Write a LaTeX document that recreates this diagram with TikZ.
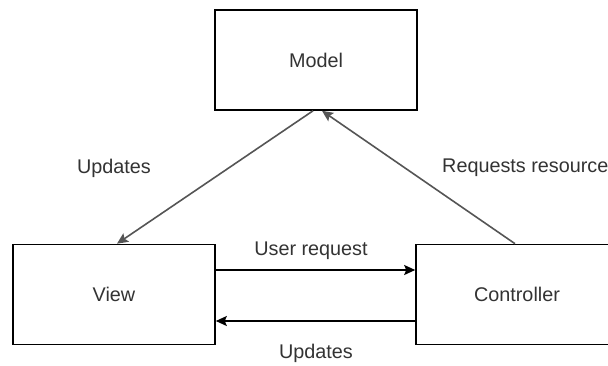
\documentclass[tikz,border=0pt]{standalone}
\usepackage{fontspec}
\setmainfont{Liberation Sans}
\definecolor{txt}{RGB}{51, 51, 51}
\definecolor{diag}{RGB}{85, 85, 85}
\usetikzlibrary{arrows.meta, positioning, calc}
\tikzset{
	tip/.style={-{Stealth[length=11pt,width=10pt,inset=2pt]}},
}
\begin{document}
\begin{tikzpicture}[x=1pt,y=-1pt,
			box/.style={rectangle,draw=black,line width=1.6pt,fill=white,
				minimum width=202pt,minimum height=100pt,inner sep=0pt,text=txt},
			lbl/.style={text=txt,inner sep=0pt},
			every node/.style={font=\fontsize{19.8}{23}\selectfont}]
			\useasboundingbox (0,0) rectangle (608,365);
			\clip (0,0) rectangle (608,365);
			\fill[white] (0,0) rectangle (608,365);
			% boxes
			\node[box] (model) at (316,60) {Model};
			\node[box] (view) at (114,294.5) {View};
			\node[box] (controller) at (517,294.5) {Controller};
			% connectors
			\draw[tip,diag,line width=1.6pt] ([xshift=-3pt]model.south) -- ([xshift=3pt]view.north);
			\draw[tip,diag,line width=1.6pt] ([xshift=-2pt]controller.north) -- ([xshift=6pt]model.south);
			\draw[tip,line width=1.6pt] ([yshift=24.5pt]view.east) -- ([yshift=24.5pt]controller.west);
			\draw[tip,line width=1.6pt] ([yshift=-26.5pt]controller.west) -- ([yshift=-26.5pt]view.east);
			% labels
			\node[lbl] (updates1) at (114,168) {Updates};
			\node[lbl,anchor=west] (requests) at (442,168) {Requests resource};
			\node[lbl] (userreq) at (311,251) {User request};
			\node[lbl] (updates2) at (316,353) {Updates};
		\end{tikzpicture}
\end{document}
